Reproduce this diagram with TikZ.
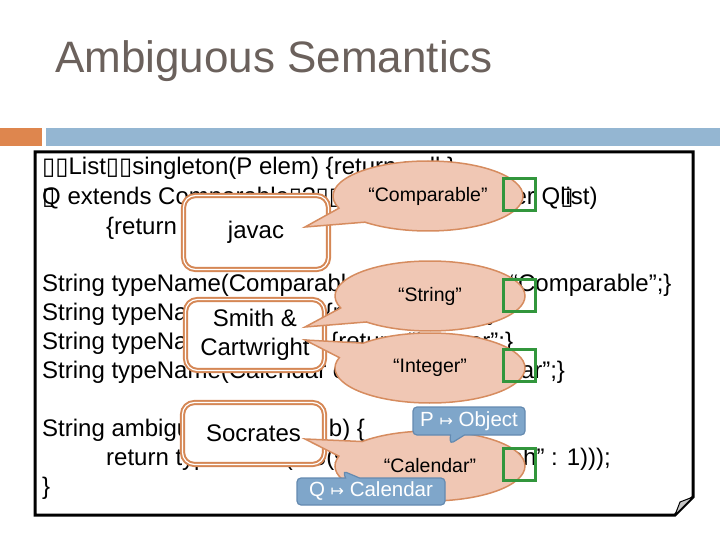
\documentclass[tikz,border=0pt]{standalone}
\usepackage{fontspec}
\setmainfont{Liberation Sans}
\newfontfamily\djv{DejaVu Sans}
\usetikzlibrary{shapes.callouts}
\definecolor{titlec}{RGB}{107,97,92}
\definecolor{orng}{RGB}{222,134,78}
\definecolor{barblue}{RGB}{148,182,210}
\definecolor{boxor}{RGB}{213,135,85}
\definecolor{bubfill}{RGB}{240,199,180}
\definecolor{bubdraw}{RGB}{214,140,95}
\definecolor{grn}{RGB}{50,150,60}
\definecolor{bluefill}{RGB}{127,166,202}
\definecolor{bluedraw}{RGB}{100,138,176}
\newcommand{\ub}{{\djv\symbol{"25AF}}}
\newcommand{\uo}{\rlap{\ub}}
\newcommand{\mapsarrow}{{\djv\fontsize{16}{16}\selectfont\symbol{"21A6}}}
\begin{document}
\begin{tikzpicture}[x=1pt,y=-1pt,
  code/.style={anchor=base west, inner sep=0pt, font=\fontsize{24}{24}\selectfont},
  dbox/.style={draw=boxor, double=white, double distance=1.2pt, line width=2pt,
    rounded corners=12pt, fill=white, inner sep=0pt, font=\fontsize{24}{29}\selectfont, align=center},
  bub/.style={ellipse callout, draw=bubdraw, line width=1.5pt, fill=bubfill, inner sep=0pt,
    minimum width=190pt, minimum height=70pt, callout pointer arc=28,
    font=\fontsize{19.5}{19.5}\selectfont},
  gsq/.style={draw=grn, line width=3pt, minimum size=32pt, inner sep=0pt},
  bluec/.style={rectangle callout, draw=bluedraw, fill=bluefill, line width=1.2pt,
    rounded corners=4pt, text=white, inner sep=0pt, callout pointer width=14pt,
    font=\fontsize{20.5}{20.5}\selectfont}]
\useasboundingbox (0,0) rectangle (720,540);

% title and bars
\node[anchor=base west, inner sep=0pt, font=\fontsize{44}{44}\selectfont, text=titlec] (title) at (55,73) {Ambiguous Semantics};
\fill[orng] (0,128) rectangle (42,146);
\fill[barblue] (46,128) rectangle (720,146);

% code frame
\draw[line width=3pt, line join=miter] (35,152) -- (693,152) -- (693,497) -- (675,515) -- (35,515) -- cycle;
\draw[line width=1pt, fill=gray!45, line join=round] (675,515) .. controls (677,508) .. (680,502) -- (693,497) -- cycle;

% code text
\node[code] (l1) at (42,175) {\ub\ub List\ub\ub singleton(P elem) \{return null;\}};
\node[code] (l2) at (42,205) {\uo Q extends Comparable\ub ?\ub\ub{} Q foo(List\uo ? super Q\uo list)};
\node[code] (l3) at (106,234) {\{return null;\}};
\node[code] (l5) at (42,291) {String typeName(Comparable\ub ?\ub{} c) \{return “Comparable”;\}};
\node[code] (l6) at (42,320) {String typeName(String s) \{return “String”;\}};
\node[code] (l7) at (42,349) {String typeName(Integer i) \{return “Integer”;\}};
\node[code] (l8) at (42,378) {String typeName(Calendar c) \{return “Calendar”;\}};
\node[code] (l10) at (42,436) {String ambiguous(boolean b) \{};
\node[code] (l11) at (106,465) {return typeName(foo(singleton(b ? “Blah” : 1)));};
\node[code] (l12) at (42,494) {\}};

% double-bordered boxes
\node[dbox, minimum width=145pt, minimum height=74pt] (javac) at (256,232.5) {javac};
\node[dbox, minimum width=139pt, minimum height=71pt] (smith) at (255,335) {Smith \&\\Cartwright};
\node[dbox, minimum width=142pt, minimum height=62pt] (socr) at (253.5,433.5) {Socrates};

% speech bubbles
\coordinate (tA) at (305,227);
\coordinate (tB) at (305,327);
\coordinate (tC) at (305,340);
\coordinate (tD) at (305,439);
\node[bub, callout absolute pointer={(tA)}] (bA) at (428,196) {“Comparable”};
\node[bub, callout absolute pointer={(tB)}] (bB) at (430,296) {“String”};
\node[bub, callout absolute pointer={(tC)}] (bC) at (430,368) {“Integer”};
\node[bub, callout absolute pointer={(tD)}] (bD) at (430,466) {“Calendar”};

% green squares
\node[gsq] (g1) at (519.5,195) {};
\node[gsq] (g2) at (519.5,295) {};
\node[gsq] (g3) at (519.5,365) {};
\node[gsq] (g4) at (519.5,464.5) {};

% blue callouts
\coordinate (tP) at (450,444);
\coordinate (tQ) at (343,471);
\node[bluec, minimum width=112pt, minimum height=28pt, callout absolute pointer={(tP)}] (pobj) at (469,421) {P \mapsarrow{} Object};
\node[bluec, minimum width=148pt, minimum height=27pt, callout absolute pointer={(tQ)}] (qcal) at (371,491.5) {Q \mapsarrow{} Calendar};
\end{tikzpicture}
\end{document}
